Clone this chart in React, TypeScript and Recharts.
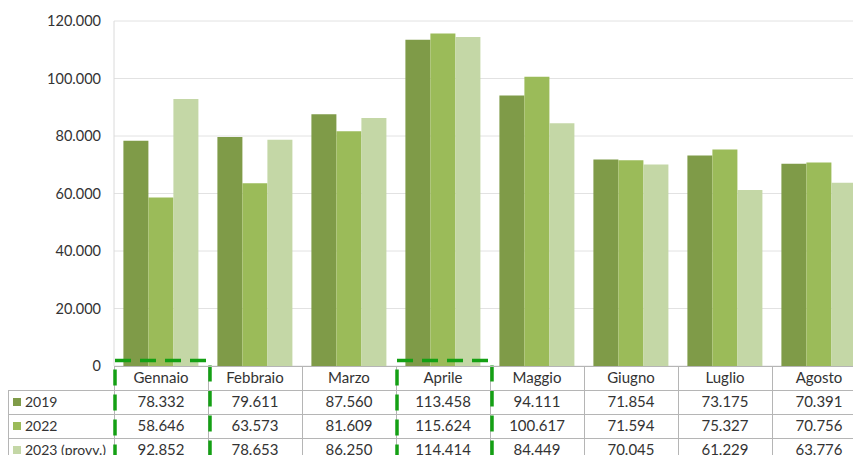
import React from 'react';
import { BarChart, Bar, XAxis, YAxis, CartesianGrid } from 'recharts';

const months = ['Gennaio', 'Febbraio', 'Marzo', 'Aprile', 'Maggio', 'Giugno', 'Luglio', 'Agosto'];
const v2019 = [78332, 79611, 87560, 113458, 94111, 71854, 73175, 70391];
const v2022 = [58646, 63573, 81609, 115624, 100617, 71594, 75327, 70756];
const v2023 = [92852, 78653, 86250, 114414, 84449, 70045, 61229, 63776];
const yTicks = [0, 20000, 40000, 60000, 80000, 100000, 120000];
const highlighted = ['Gennaio', 'Aprile'];

const series = [
  { key: 'y2019', label: '2019', color: '#7f9b48', values: v2019 },
  { key: 'y2022', label: '2022', color: '#9bbb59', values: v2022 },
  { key: 'y2023', label: '2023 (provv.)', color: '#c4d7a6', values: v2023 },
];

const data = months.map((m, i) => ({
  month: m,
  y2019: v2019[i],
  y2022: v2022[i],
  y2023: v2023[i],
}));

const CHART_W = 880;
const PLOT_LEFT = 114;
const PLOT_RIGHT = 866;
const BAND = (PLOT_RIGHT - PLOT_LEFT) / months.length;
const ROW = 24;
const FONT = 'Lato, "Open Sans", sans-serif';
const TEXT = '#333';
const BORDER = '#b5b5b5';
const TABLE_FS = 15;

const fmt = (v: number) => String(v).replace(/\B(?=(\d{3})+(?!\d))/g, '.');

function TableTick(props: any) {
  const { x, y, index, payload } = props;
  const left = x - BAND / 2;
  const right = x + BAND / 2;
  const month = payload.value as string;
  const i = months.indexOf(month);
  const rows = 3;

  return (
    <g>
      {/* horizontal borders */}
      {[0, 1, 2, 3].map((r) => (
        <line key={r} x1={left} x2={right} y1={y + r * ROW + 0.5} y2={y + r * ROW + 0.5} stroke={BORDER} />
      ))}
      {index === 0 && <line x1={left + 0.5} x2={left + 0.5} y1={y} y2={y + (rows + 2) * ROW} stroke={BORDER} />}
      <line x1={right + 0.5} x2={right + 0.5} y1={y} y2={y + (rows + 2) * ROW} stroke={BORDER} />

      <text x={x} y={y + ROW / 2} dy="0.35em" textAnchor="middle" fontSize={TABLE_FS} fontFamily={FONT} fill={TEXT}>
        {month}
      </text>
      {series.map((s, r) => (
        <text
          key={s.key}
          x={x}
          y={y + ROW * (r + 1) + ROW / 2}
          dy="0.35em"
          textAnchor="middle"
          fontSize={TABLE_FS}
          fontFamily={FONT}
          fill={TEXT}
        >
          {fmt(s.values[i])}
        </text>
      ))}

      {index === 0 && (
        <g>
          <line x1={8.5} x2={8.5} y1={y + ROW} y2={y + (rows + 2) * ROW} stroke={BORDER} />
          {[1, 2, 3].map((r) => (
            <line key={r} x1={8} x2={left} y1={y + r * ROW + 0.5} y2={y + r * ROW + 0.5} stroke={BORDER} />
          ))}
          {series.map((s, r) => (
            <g key={s.key}>
              <rect x={13} y={y + ROW * (r + 1) + ROW / 2 - 4} width={8} height={8} fill={s.color} />
              <text
                x={25}
                y={y + ROW * (r + 1) + ROW / 2}
                dy="0.35em"
                fontSize={14}
                fontFamily={FONT}
                fill={TEXT}
              >
                {s.label}
              </text>
            </g>
          ))}
        </g>
      )}

      {highlighted.includes(month) && (
        <rect
          x={left + 1}
          y={y - 5.5}
          width={BAND + 1}
          height={130}
          fill="none"
          stroke="#14a014"
          strokeWidth={3.5}
          strokeDasharray="16 9"
        />
      )}
    </g>
  );
}

export default function App() {
  return (
    <div style={{ position: 'absolute', left: 0, top: 0, width: 853, height: 455, overflow: 'hidden', background: '#fff' }}>
      <BarChart
        width={CHART_W}
        height={455}
        data={data}
        margin={{ top: 21, right: CHART_W - PLOT_RIGHT, bottom: 0, left: 0 }}
        barCategoryGap="10%"
        barGap={0}
      >
        <CartesianGrid vertical={false} stroke="#e2e2e2" />
        <XAxis
          dataKey="month"
          height={89}
          interval={0}
          tickSize={0}
          tickMargin={0}
          axisLine={false}
          tickLine={false}
          tick={<TableTick />}
        />
        <YAxis
          width={PLOT_LEFT}
          domain={[0, 120000]}
          ticks={yTicks}
          tickFormatter={fmt}
          axisLine={{ stroke: '#dadada' }}
          tickLine={false}
          tickSize={0}
          tickMargin={13}
          tick={{ fontSize: 14.5, fontFamily: FONT, fill: '#333' }}
        />
        {series.map((s) => (
          <Bar key={s.key} dataKey={s.key} fill={s.color} isAnimationActive={false} />
        ))}
      </BarChart>
    </div>
  );
}
